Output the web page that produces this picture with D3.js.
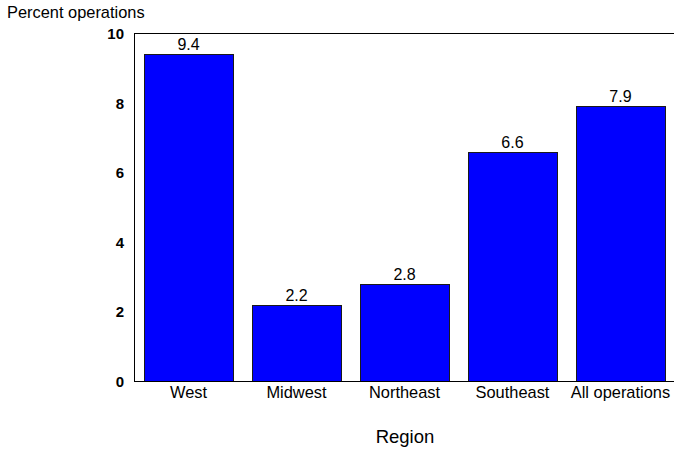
<!DOCTYPE html>
<html><head><meta charset="utf-8">
<script src="https://cdn.jsdelivr.net/npm/d3@7"></script>
<style>body{margin:0;background:#fff}svg{display:block;font-family:"Liberation Sans",Arial,sans-serif}</style>
</head><body><svg id="c" width="674" height="449"></svg>
<script>
const categories = ["West","Midwest","Northeast","Southeast","All operations"];
const values = [9.4, 2.2, 2.8, 6.6, 7.9];
const yTicks = [0, 2, 4, 6, 8, 10];

const svg = d3.select("#c");
const x = d3.scaleBand().domain(categories).range([135, 676]).paddingInner(0.176).paddingOuter(0.093);
const y = d3.scaleLinear().domain([0, 10]).range([381, 33.5]);

svg.append("line").attr("x1",134.5).attr("x2",134.5).attr("y1",y(10)).attr("y2",y(0)).attr("stroke","#000");
svg.append("line").attr("x1",134).attr("x2",674).attr("y1",33.5).attr("y2",33.5).attr("stroke","#000");

svg.selectAll("rect.bar").data(values).join("rect").attr("class","bar")
  .attr("x",(d,i)=>Math.round(x(categories[i]))-0.5)
  .attr("y",d=>Math.round(y(d))+0.5)
  .attr("width",Math.round(x.bandwidth()))
  .attr("height",d=>Math.round(y(0))-Math.round(y(d)))
  .attr("fill","#0000ff").attr("stroke","#1a1a1a").attr("stroke-width",1);

svg.append("line").attr("x1",134).attr("x2",674).attr("y1",y(0)+0.5).attr("y2",y(0)+0.5).attr("stroke","#000").attr("stroke-width",1.2);

svg.selectAll("text.val").data(values).join("text").attr("class","val")
  .attr("x",(d,i)=>x(categories[i])+x.bandwidth()/2-1)
  .attr("y",d=>y(d)-4)
  .attr("text-anchor","middle").attr("font-size",16).text(d=>d.toFixed(1));

svg.selectAll("text.ytick").data(yTicks).join("text").attr("class","ytick")
  .attr("x",124).attr("y",d=>y(d)+5.5)
  .attr("text-anchor","end").attr("font-size",15).attr("font-weight","bold").text(d=>d);

svg.selectAll("text.xcat").data(categories).join("text").attr("class","xcat")
  .attr("x",d=>x(d)+x.bandwidth()/2-1).attr("y",398)
  .attr("text-anchor","middle").attr("font-size",16.4).text(d=>d);

svg.append("text").attr("x",405).attr("y",443).attr("text-anchor","middle").attr("font-size",18.5).text("Region");
svg.append("text").attr("x",7).attr("y",18).attr("font-size",16.4).text("Percent operations");
</script></body></html>
